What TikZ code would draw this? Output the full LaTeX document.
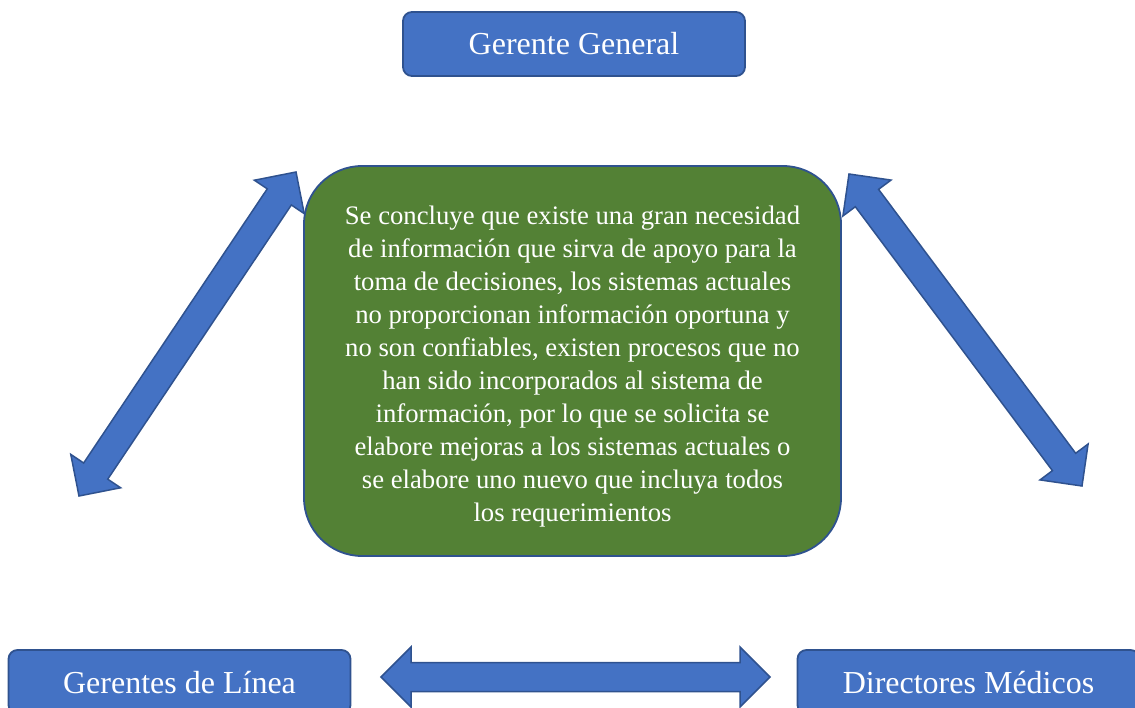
\documentclass[tikz,border=0pt]{standalone}
\usepackage{fontspec}
\setmainfont{Liberation Serif}
\usepackage{tikz}
\usetikzlibrary{calc}

\definecolor{boxblue}{HTML}{4472C4}
\definecolor{edgeblue}{HTML}{2F528F}
\definecolor{boxgreen}{HTML}{538135}

% block arrow with two heads between two named points
\newcommand{\blockarrow}[2]{%
    \coordinate (h1) at ($(#1)!30pt!(#2)$);
    \coordinate (h2) at ($(#2)!30pt!(#1)$);
    \draw[arrowbody] (#1) -- ($(h1)!30pt!-90:(#2)$) -- ($(h1)!14.5pt!-90:(#2)$)
        -- ($(h2)!14.5pt!90:(#1)$) -- ($(h2)!30pt!90:(#1)$) -- (#2)
        -- ($(h2)!30pt!-90:(#1)$) -- ($(h2)!14.5pt!-90:(#1)$)
        -- ($(h1)!14.5pt!90:(#2)$) -- ($(h1)!30pt!90:(#2)$) -- cycle;}

\begin{document}
\begin{tikzpicture}[x=1pt,y=-1pt,
    bluebox/.style={draw=edgeblue, line width=1.8pt, fill=boxblue, rounded corners=9pt,
        text=white, font=\fontsize{32}{38}\selectfont, minimum width=342pt,
        minimum height=64pt, text height=22pt, text depth=0pt, inner sep=0pt},
    greenbox/.style={draw=edgeblue, line width=1.8pt, fill=boxgreen, rounded corners=58pt,
        text=white, font=\fontsize{26.7}{33}\selectfont, minimum width=537pt,
        minimum height=390pt, align=center, inner sep=0pt},
    arrowbody/.style={draw=edgeblue, line width=1.5pt, fill=boxblue, line join=miter}]

\useasboundingbox (0,0) rectangle (1135,708);

	%%% boxes
    \node[bluebox] (gerente) at (574,44) {Gerente General};
    \node[greenbox] (conclusion) at (572.5,361) {\rule{0pt}{29pt}Se concluye que existe una gran necesidad\\
        de información que sirva de apoyo para la\\
        toma de decisiones, los sistemas actuales\\
        no proporcionan información oportuna y\\
        no son confiables, existen procesos que no\\
        han sido incorporados al sistema de\\
        información, por lo que se solicita se\\
        elabore mejoras a los sistemas actuales o\\
        se elabore uno nuevo que incluya todos\\
        los requerimientos};
    \node[bluebox] (linea) at (179.5,682) {Gerentes de Línea};
    \node[bluebox] (medicos) at (968.5,682) {Directores Médicos};

	%%% arrows
    \coordinate (L1) at (296,172);
    \coordinate (L2) at (79,496);
    \coordinate (R1) at (849,174);
    \coordinate (R2) at (1082,486);
    \coordinate (B1) at (381,677);
    \coordinate (B2) at (770,677);

    \blockarrow{L1}{L2}
    \blockarrow{R1}{R2}
    \blockarrow{B1}{B2}

\end{tikzpicture}
\end{document}
